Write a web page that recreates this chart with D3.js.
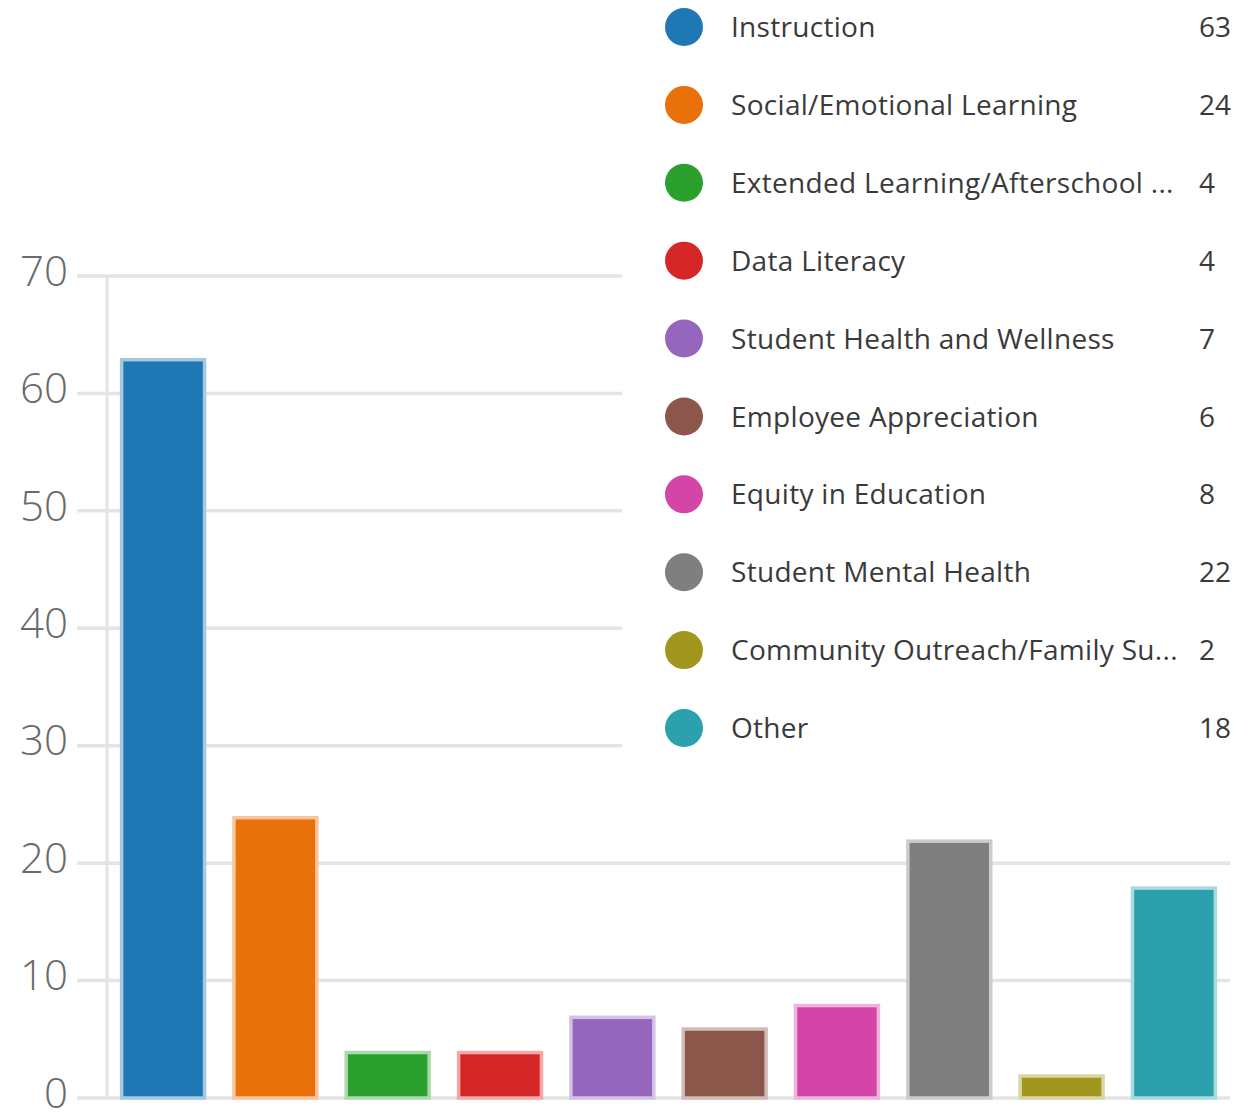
<!DOCTYPE html>
<html><head><meta charset="utf-8">
<script src="https://cdn.jsdelivr.net/npm/d3@7"></script>
<style>body{margin:0;background:#fff}svg{display:block}</style>
</head><body>
<script>
const categories = ["Instruction","Social/Emotional Learning","Extended Learning/Afterschool ...","Data Literacy","Student Health and Wellness","Employee Appreciation","Equity in Education","Student Mental Health","Community Outreach/Family Su...","Other"];
const values = [63,24,4,4,7,6,8,22,2,18];
const colors = ["#1f77b4","#e8710a","#2ca02c","#d62728","#9467bd","#8c564b","#d346a8","#7f7f7f","#a3961f","#2aa1ac"];
const yTicks = [0,10,20,30,40,50,60,70];

const W = 1258, H = 1114;
const svg = d3.select("body").append("svg").attr("width", W).attr("height", H);

const x = d3.scaleBand().domain(categories).range([107, 1230]).paddingInner(0.235).paddingOuter(0.117);
const y = d3.scaleLinear().domain([0, 70]).range([1098, 276]);

// gridlines
svg.append("g").selectAll("line").data(yTicks).join("line")
  .attr("x1", 77).attr("x2", 1230)
  .attr("y1", d => y(d)).attr("y2", d => y(d))
  .attr("stroke", "#e4e4e4").attr("stroke-width", 3.5);
// vertical axis line
svg.append("line").attr("x1", 107).attr("x2", 107).attr("y1", y(70)).attr("y2", y(0))
  .attr("stroke", "#e4e4e4").attr("stroke-width", 3);

// y axis labels
const yAxis = d3.axisLeft(y).tickValues(yTicks).tickSize(0).tickPadding(0);
const ga = svg.append("g").attr("transform", "translate(68,0)").call(yAxis);
ga.select(".domain").remove();
ga.selectAll("text").attr("font-family", "'Open Sans', sans-serif").attr("font-weight", 300)
  .attr("font-size", 42).attr("fill", "#6a6a6a").attr("dy", "0.22em");

// bars
svg.append("g").selectAll("rect").data(values).join("rect")
  .attr("x", (d, i) => x(categories[i]) + 1.5)
  .attr("width", x.bandwidth() - 3)
  .attr("y", d => y(d) + 1.5)
  .attr("height", d => y(0) - y(d) - 1.5)
  .attr("fill", (d, i) => colors[i])
  .attr("stroke", (d, i) => d3.interpolateRgb(colors[i], "#fff")(0.6))
  .attr("stroke-width", 3.5);

// legend
const lg = svg.append("g");
lg.append("rect").attr("x", 622).attr("y", 0).attr("width", W - 622).attr("height", 770).attr("fill", "#fff");
const rowY = d3.scaleLinear().domain([0, 9]).range([27, 728]);
const items = lg.selectAll("g.item").data(categories).join("g").attr("class", "item")
  .attr("transform", (d, i) => `translate(0,${rowY(i)})`);
items.append("circle").attr("cx", 684).attr("cy", 0).attr("r", 19).attr("fill", (d, i) => colors[i]);
items.append("text").attr("x", 731).attr("y", 0).attr("dy", "0.36em").text(d => d)
  .attr("font-family", "'Open Sans', sans-serif").attr("font-size", 28).attr("letter-spacing", 0.3).attr("fill", "#3a3a3a");
items.append("text").attr("x", 1199).attr("y", 0).attr("dy", "0.36em").text((d, i) => values[i])
  .attr("font-family", "'Open Sans', sans-serif").attr("font-size", 28).attr("fill", "#3a3a3a");
</script>
</body></html>
